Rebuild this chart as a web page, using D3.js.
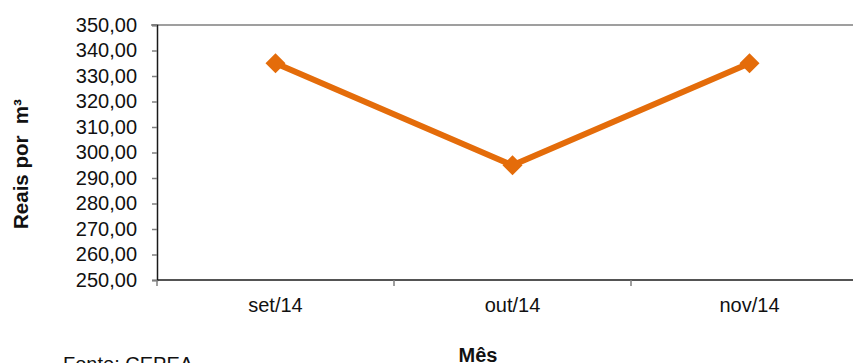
<!DOCTYPE html>
<html>
<head>
<meta charset="utf-8">
<script src="https://cdn.jsdelivr.net/npm/d3@7"></script>
<style>
  html, body { margin: 0; padding: 0; background: #fff; }
  svg { display: block; font-family: "Liberation Sans", Arial, sans-serif; }
</style>
</head>
<body>
<svg id="chart" width="853" height="363"></svg>
<script>
// Preço médio (R$/m³) por mês
const months = ["set/14", "out/14", "nov/14"];
const prices = [335, 295, 335];
const yTicks = [250, 260, 270, 280, 290, 300, 310, 320, 330, 340, 350];

const svg = d3.select("#chart");
const plotLeft = 157, plotTop = 25, plotBottom = 280;
const bandW = 237;

const x = d3.scaleBand().domain(months).range([plotLeft, plotLeft + bandW * months.length]);
const y = d3.scaleLinear().domain([250, 350]).range([plotBottom, plotTop]);

const fmt = v => v.toFixed(2).replace(".", ",");

// plot frame (top edge)
svg.append("line")
  .attr("x1", plotLeft - 6).attr("x2", 853)
  .attr("y1", plotTop).attr("y2", plotTop)
  .attr("stroke", "#7f7f7f").attr("stroke-width", 1.5);

// y axis
const yAxis = svg.append("g")
  .attr("transform", `translate(${plotLeft},0)`)
  .call(d3.axisLeft(y).tickValues(yTicks).tickFormat(fmt).tickSize(5).tickPadding(15));
yAxis.select(".domain").attr("stroke", "#1a1a1a").attr("stroke-width", 1.5);
yAxis.selectAll(".tick line").attr("stroke", "#7f7f7f").attr("stroke-width", 1.5);
yAxis.selectAll(".tick text")
  .attr("font-size", 20).attr("fill", "#111")
  .attr("font-family", "Liberation Sans, Arial, sans-serif");

// x axis with category boundary ticks
const xAxisG = svg.append("g").attr("transform", `translate(0,${plotBottom})`);
xAxisG.append("line")
  .attr("x1", plotLeft).attr("x2", 853)
  .attr("y1", 0).attr("y2", 0)
  .attr("stroke", "#1a1a1a").attr("stroke-width", 1.5);
xAxisG.selectAll("line.tk")
  .data(months)
  .join("line")
  .attr("class", "tk")
  .attr("x1", d => x(d)).attr("x2", d => x(d))
  .attr("y1", 0).attr("y2", 6)
  .attr("stroke", "#7f7f7f").attr("stroke-width", 1.5);
xAxisG.selectAll("text")
  .data(months)
  .join("text")
  .attr("x", d => x(d) + x.bandwidth() / 2)
  .attr("y", 32)
  .attr("text-anchor", "middle")
  .attr("font-size", 20).attr("fill", "#111")
  .text(d => d);

// price line
const cx = d => x(d) + x.bandwidth() / 2;
const orange = "#e46c0a";
svg.append("path")
  .datum(months.map((m, i) => [cx(m), y(prices[i])]))
  .attr("fill", "none")
  .attr("stroke", orange)
  .attr("stroke-width", 6)
  .attr("stroke-linejoin", "round")
  .attr("d", d3.line());

svg.selectAll("path.mk")
  .data(months)
  .join("path")
  .attr("class", "mk")
  .attr("d", d3.symbol(d3.symbolSquare, 200)())
  .attr("transform", (d, i) => `translate(${cx(d)},${y(prices[i])}) rotate(45)`)
  .attr("fill", orange);

// axis titles
svg.append("text")
  .attr("transform", "translate(28,164) rotate(-90)")
  .attr("text-anchor", "middle")
  .attr("font-size", 20.5).attr("font-weight", "bold").attr("fill", "#111")
  .attr("xml:space", "preserve")
  .text("Reais por  m³");

svg.append("text")
  .attr("x", 478).attr("y", 362)
  .attr("text-anchor", "middle")
  .attr("font-size", 20).attr("font-weight", "bold").attr("fill", "#111")
  .text("Mês");

svg.append("text")
  .attr("x", 63).attr("y", 371)
  .attr("font-size", 20).attr("fill", "#111")
  .text("Fonte: CEPEA");
</script>
</body>
</html>
